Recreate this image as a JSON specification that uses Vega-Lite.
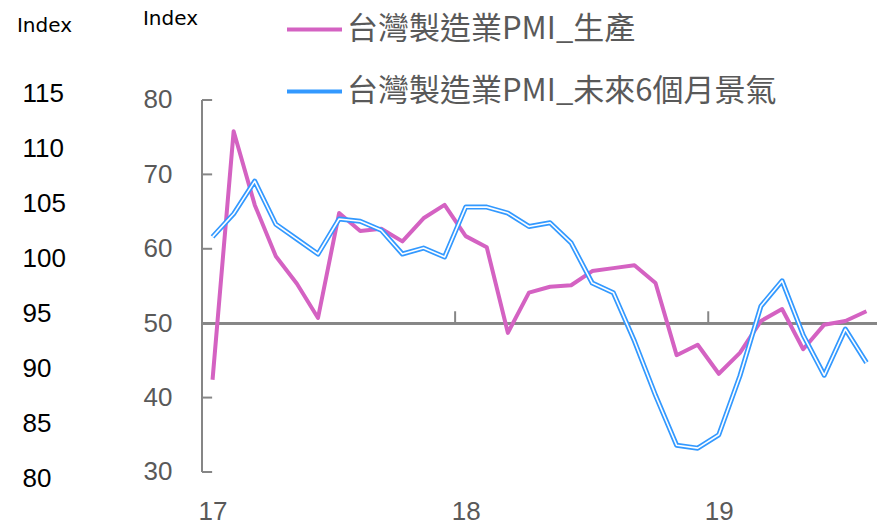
{
  "$schema": "https://vega.github.io/schema/vega-lite/v6.json",
  "width": 675,
  "height": 385,
  "autosize": "none",
  "padding": {"left": 202, "top": 93, "right": 0, "bottom": 48},
  "background": "white",
  "config": {
    "view": {"stroke": null},
    "axis": {"grid": false, "labelFont": "Liberation Sans", "titleFont": "DejaVu Sans"},
    "legend": {
      "orient": "none",
      "legendX": 83,
      "legendY": -93,
      "symbolType": "stroke",
      "symbolSize": 3025,
      "symbolStrokeWidth": 4,
      "labelFontSize": 31,
      "labelFont": "Noto Sans CJK TC",
      "labelColor": "#595959",
      "labelOffset": 3,
      "labelLimit": 0,
      "rowPadding": 17,
      "title": null,
      "padding": 0
    }
  },
  "datasets": {
    "pmi": [
      {"m": 0, "台灣製造業PMI_生產": 42.4, "台灣製造業PMI_未來6個月景氣": 61.6},
      {"m": 1, "台灣製造業PMI_生產": 75.8, "台灣製造業PMI_未來6個月景氣": 64.7},
      {"m": 2, "台灣製造業PMI_生產": 65.9, "台灣製造業PMI_未來6個月景氣": 69.1},
      {"m": 3, "台灣製造業PMI_生產": 59.0, "台灣製造業PMI_未來6個月景氣": 63.3},
      {"m": 4, "台灣製造業PMI_生產": 55.3, "台灣製造業PMI_未來6個月景氣": 61.3},
      {"m": 5, "台灣製造業PMI_生產": 50.7, "台灣製造業PMI_未來6個月景氣": 59.3},
      {"m": 6, "台灣製造業PMI_生產": 64.8, "台灣製造業PMI_未來6個月景氣": 64.0},
      {"m": 7, "台灣製造業PMI_生產": 62.4, "台灣製造業PMI_未來6個月景氣": 63.7},
      {"m": 8, "台灣製造業PMI_生產": 62.7, "台灣製造業PMI_未來6個月景氣": 62.5},
      {"m": 9, "台灣製造業PMI_生產": 61.0, "台灣製造業PMI_未來6個月景氣": 59.3},
      {"m": 10, "台灣製造業PMI_生產": 64.1, "台灣製造業PMI_未來6個月景氣": 60.1},
      {"m": 11, "台灣製造業PMI_生產": 65.9, "台灣製造業PMI_未來6個月景氣": 58.9},
      {"m": 12, "台灣製造業PMI_生產": 61.7, "台灣製造業PMI_未來6個月景氣": 65.6},
      {"m": 13, "台灣製造業PMI_生產": 60.2, "台灣製造業PMI_未來6個月景氣": 65.6},
      {"m": 14, "台灣製造業PMI_生產": 48.7, "台灣製造業PMI_未來6個月景氣": 64.8},
      {"m": 15, "台灣製造業PMI_生產": 54.1, "台灣製造業PMI_未來6個月景氣": 63.0},
      {"m": 16, "台灣製造業PMI_生產": 54.9, "台灣製造業PMI_未來6個月景氣": 63.5},
      {"m": 17, "台灣製造業PMI_生產": 55.1, "台灣製造業PMI_未來6個月景氣": 60.8},
      {"m": 18, "台灣製造業PMI_生產": 57.0, "台灣製造業PMI_未來6個月景氣": 55.4},
      {"m": 19, "台灣製造業PMI_生產": 57.4, "台灣製造業PMI_未來6個月景氣": 54.1},
      {"m": 20, "台灣製造業PMI_生產": 57.8, "台灣製造業PMI_未來6個月景氣": 47.6},
      {"m": 21, "台灣製造業PMI_生產": 55.4, "台灣製造業PMI_未來6個月景氣": 40.3},
      {"m": 22, "台灣製造業PMI_生產": 45.7, "台灣製造業PMI_未來6個月景氣": 33.6},
      {"m": 23, "台灣製造業PMI_生產": 47.1, "台灣製造業PMI_未來6個月景氣": 33.2},
      {"m": 24, "台灣製造業PMI_生產": 43.2, "台灣製造業PMI_未來6個月景氣": 35.0},
      {"m": 25, "台灣製造業PMI_生產": 46.0, "台灣製造業PMI_未來6個月景氣": 42.9},
      {"m": 26, "台灣製造業PMI_生產": 50.3, "台灣製造業PMI_未來6個月景氣": 52.3},
      {"m": 27, "台灣製造業PMI_生產": 51.9, "台灣製造業PMI_未來6個月景氣": 55.7},
      {"m": 28, "台灣製造業PMI_生產": 46.5, "台灣製造業PMI_未來6個月景氣": 48.4},
      {"m": 29, "台灣製造業PMI_生產": 49.8, "台灣製造業PMI_未來6個月景氣": 43.0},
      {"m": 30, "台灣製造業PMI_生產": 50.3, "台灣製造業PMI_未來6個月景氣": 49.2},
      {"m": 31, "台灣製造業PMI_生產": 51.6, "台灣製造業PMI_未來6個月景氣": 44.7}
    ],
    "yticks": [{"v": 30}, {"v": 40}, {"v": 50}, {"v": 60}, {"v": 70}, {"v": 80}],
    "xticks": [{"t": 11.5}, {"t": 23.5}]
  },
  "layer": [
    {
      "mark": {"type": "rule", "opacity": 0},
      "encoding": {
        "y": {
          "datum": 80,
          "type": "quantitative",
          "scale": {"domain": [80, 115], "nice": false, "zero": false},
          "axis": {
            "orient": "left",
            "values": [80, 85, 90, 95, 100, 105, 110, 115],
            "domain": false,
            "ticks": false,
            "labelAlign": "left",
            "labelBaseline": "middle",
            "labelPadding": 180,
            "labelFontSize": 26,
            "labelColor": "#000000",
            "title": "Index",
            "titleAngle": 0,
            "titleX": -158,
            "titleY": -68,
            "titleAlign": "center",
            "titleBaseline": "middle",
            "titleFontSize": 20,
            "titleFontWeight": "normal",
            "titleColor": "#000000"
          }
        }
      }
    },
    {
      "layer": [
        {
          "data": {"name": "yticks"},
          "mark": {"type": "rule", "stroke": "#868686", "strokeWidth": 2},
          "encoding": {
            "y": {"field": "v", "type": "quantitative"},
            "x": {"datum": -0.5, "type": "quantitative"},
            "x2": {"datum": -0.02}
          }
        },
        {
          "data": {"name": "xticks"},
          "mark": {"type": "rule", "stroke": "#868686", "strokeWidth": 2},
          "encoding": {
            "x": {"field": "t", "type": "quantitative"},
            "y": {"datum": 50, "type": "quantitative"},
            "y2": {"datum": 51.6}
          }
        },
        {
          "data": {"name": "pmi"},
          "mark": {"type": "rule", "stroke": "#868686", "strokeWidth": 2},
          "encoding": {
            "x": {"datum": -0.5, "type": "quantitative"},
            "y": {"datum": 30, "type": "quantitative"},
            "y2": {"datum": 80}
          }
        },
        {
          "data": {"name": "pmi"},
          "mark": {"type": "rule", "stroke": "#868686", "strokeWidth": 2},
          "encoding": {
            "x": {"datum": -0.5, "type": "quantitative"},
            "x2": {"datum": 31.5},
            "y": {"datum": 50, "type": "quantitative"}
          }
        },
        {
          "data": {"name": "pmi"},
          "transform": [
            {"fold": ["台灣製造業PMI_生產", "台灣製造業PMI_未來6個月景氣"], "as": ["s", "v"]},
            {"filter": "datum.s == '台灣製造業PMI_生產'"}
          ],
          "mark": {"type": "line", "strokeWidth": 4, "strokeJoin": "round"},
          "encoding": {
            "x": {
              "field": "m",
              "type": "quantitative",
              "scale": {"domain": [-0.5, 31.5], "nice": false, "zero": false},
              "axis": {
                "values": [0, 12, 24],
                "labelExpr": "datum.value == 0 ? '17' : datum.value == 12 ? '18' : '19'",
                "domain": false,
                "ticks": false,
                "labelPadding": 20,
                "labelFontSize": 26,
                "labelColor": "#595959",
                "title": null
              }
            },
            "y": {
              "field": "v",
              "type": "quantitative",
              "scale": {"domain": [29.19, 80.94], "nice": false, "zero": false},
              "axis": {
                "orient": "left",
                "values": [30, 40, 50, 60, 70, 80],
                "domain": false,
                "ticks": false,
                "labelPadding": 30,
                "labelFontSize": 26,
                "labelColor": "#595959",
                "labelBaseline": "middle",
                "title": "Index",
                "titleAngle": 0,
                "titleX": -32,
                "titleY": -75,
                "titleAlign": "center",
                "titleBaseline": "middle",
                "titleFontSize": 20,
                "titleFontWeight": "normal",
                "titleColor": "#000000"
              }
            },
            "color": {
              "field": "s",
              "type": "nominal",
              "scale": {
                "domain": ["台灣製造業PMI_生產", "台灣製造業PMI_未來6個月景氣"],
                "range": ["#D462C2", "#3399FF"]
              }
            }
          }
        },
        {
          "data": {"name": "pmi"},
          "transform": [
            {"fold": ["台灣製造業PMI_生產", "台灣製造業PMI_未來6個月景氣"], "as": ["s", "v"]},
            {"filter": "datum.s == '台灣製造業PMI_未來6個月景氣'"}
          ],
          "mark": {"type": "line", "strokeWidth": 5, "strokeJoin": "round"},
          "encoding": {
            "x": {"field": "m", "type": "quantitative"},
            "y": {"field": "v", "type": "quantitative"},
            "color": {"field": "s", "type": "nominal"}
          }
        },
        {
          "data": {"name": "pmi"},
          "mark": {"type": "line", "strokeWidth": 1.6, "stroke": "#ffffff", "strokeJoin": "round"},
          "encoding": {
            "x": {"field": "m", "type": "quantitative"},
            "y": {"field": "台灣製造業PMI_未來6個月景氣", "type": "quantitative"}
          }
        }
      ]
    }
  ],
  "resolve": {"scale": {"y": "independent"}, "axis": {"y": "independent"}}
}
